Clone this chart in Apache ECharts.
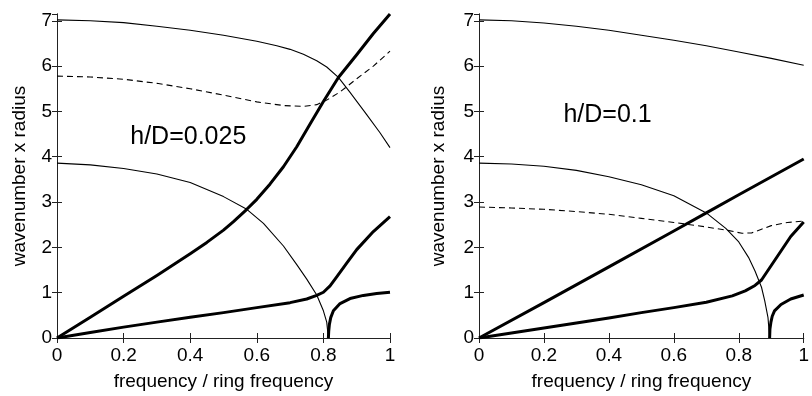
<!DOCTYPE html>
<html>
<head>
<meta charset="utf-8">
<script src="https://cdn.jsdelivr.net/npm/echarts@6/dist/echarts.min.js"></script>
<style>
  html, body { margin: 0; padding: 0; background: #fff; }
  #main { width: 812px; height: 396px; }
</style>
</head>
<body>
<div id="main"></div>
<script>
// h/D = 0.025 (left panel)
const fA_L = [0, 0.1, 0.2, 0.3, 0.4, 0.5, 0.6, 0.66, 0.7, 0.74, 0.78, 0.81, 0.845, 0.88, 0.93, 0.97, 1.0];
const yA_L = [7.02, 7.0, 6.96, 6.88, 6.79, 6.68, 6.55, 6.45, 6.37, 6.26, 6.12, 5.98, 5.75, 5.42, 4.93, 4.53, 4.2];
const fB_L = [0, 0.1, 0.2, 0.3, 0.4, 0.5, 0.57, 0.62, 0.68, 0.72, 0.75, 0.78, 0.8, 0.81, 0.815];
const yB_L = [3.86, 3.82, 3.74, 3.62, 3.43, 3.12, 2.84, 2.53, 2.03, 1.62, 1.3, 0.95, 0.6, 0.35, 0];
const fC_L = [0, 0.1, 0.2, 0.3, 0.4, 0.5, 0.6, 0.68, 0.74, 0.78, 0.81, 0.85, 0.9, 0.95, 1.0];
const yC_L = [5.78, 5.76, 5.71, 5.62, 5.5, 5.36, 5.21, 5.13, 5.11, 5.15, 5.25, 5.43, 5.72, 6.0, 6.33];
const fD_L = [0, 0.1, 0.2, 0.3, 0.4, 0.45, 0.5, 0.53, 0.57, 0.6, 0.64, 0.68, 0.72, 0.76, 0.8, 0.845, 0.9, 0.95, 1.0];
const yD_L = [0, 0.46, 0.92, 1.38, 1.86, 2.11, 2.38, 2.57, 2.84, 3.06, 3.4, 3.78, 4.22, 4.72, 5.22, 5.75, 6.25, 6.72, 7.15];
const fE_L = [0, 0.1, 0.2, 0.3, 0.4, 0.5, 0.6, 0.7, 0.75, 0.78, 0.8, 0.82, 0.84, 0.87, 0.9, 0.95, 1.0];
const yE_L = [0, 0.12, 0.24, 0.35, 0.46, 0.56, 0.67, 0.78, 0.86, 0.94, 1.01, 1.15, 1.35, 1.65, 1.95, 2.35, 2.68];
const fF_L = [0.815, 0.816, 0.818, 0.822, 0.83, 0.85, 0.88, 0.92, 0.96, 1.0];
const yF_L = [0, 0.15, 0.3, 0.45, 0.6, 0.76, 0.87, 0.94, 0.98, 1.01];

// h/D = 0.1 (right panel)
const fA_R = [0, 0.1, 0.2, 0.3, 0.4, 0.5, 0.6, 0.7, 0.8, 0.9, 1.0];
const yA_R = [7.02, 7.0, 6.95, 6.88, 6.79, 6.68, 6.57, 6.45, 6.31, 6.17, 6.02];
const fB_R = [0, 0.1, 0.2, 0.3, 0.4, 0.5, 0.6, 0.7, 0.76, 0.8, 0.83, 0.85, 0.87, 0.88, 0.89, 0.895];
const yB_R = [3.86, 3.84, 3.79, 3.7, 3.56, 3.38, 3.14, 2.76, 2.42, 2.12, 1.78, 1.48, 1.12, 0.82, 0.45, 0];
const fC_R = [0, 0.1, 0.2, 0.3, 0.4, 0.5, 0.6, 0.7, 0.77, 0.81, 0.84, 0.87, 0.9, 0.95, 1.0];
const yC_R = [2.89, 2.87, 2.84, 2.79, 2.73, 2.64, 2.55, 2.45, 2.37, 2.31, 2.32, 2.4, 2.48, 2.55, 2.58];
const fD_R = [0, 0.2, 0.4, 0.6, 0.7, 0.8, 1.0];
const yD_R = [0, 0.78, 1.57, 2.36, 2.76, 3.16, 3.95];
const fE_R = [0, 0.1, 0.2, 0.3, 0.4, 0.5, 0.6, 0.7, 0.78, 0.82, 0.85, 0.87, 0.9, 0.93, 0.96, 1.0];
const yE_R = [0, 0.11, 0.22, 0.33, 0.44, 0.56, 0.67, 0.79, 0.93, 1.04, 1.16, 1.28, 1.6, 1.92, 2.24, 2.56];
const fF_R = [0.895, 0.896, 0.899, 0.903, 0.91, 0.93, 0.96, 1.0];
const yF_R = [0, 0.2, 0.35, 0.48, 0.6, 0.74, 0.86, 0.95];

const panelLabels = ["h/D=0.025", "h/D=0.1"];
const labelPos = [[0.22, 4.46], [0.26, 4.96]];

const xName = "frequency / ring frequency";
const yName = "wavenumber x radius";
const FONT = '"Liberation Sans", Arial, sans-serif';
const INK = "#000";
const AXIS = "#222";

const pairs = (xs, ys) => xs.map((x, i) => [x, ys[i]]);

function xAxes(grid) {
  const common = {
    type: "value", gridIndex: grid, min: 0, max: 1, interval: 0.2,
    axisLine: { show: true, lineStyle: { color: AXIS, width: 1 } },
    axisTick: { show: true, inside: true, length: 5, lineStyle: { color: AXIS } },
    splitLine: { show: false }
  };
  return [
    Object.assign({}, common, {
      position: "bottom",
      name: xName, nameLocation: "middle", nameGap: 34,
      nameTextStyle: { fontFamily: FONT, fontSize: 19, color: INK },
      axisLabel: { show: true, margin: 8, fontFamily: FONT, fontSize: 19, color: INK }
    }),
    Object.assign({}, common, { position: "top", axisLabel: { show: false } })
  ];
}

function yAxes(grid, gap) {
  const common = {
    type: "value", gridIndex: grid, min: 0, max: 7.15, interval: 1,
    axisLine: { show: true, lineStyle: { color: AXIS, width: 1 } },
    axisTick: { show: true, inside: true, length: 5, lineStyle: { color: AXIS } },
    splitLine: { show: false }
  };
  return [
    Object.assign({}, common, {
      position: "left",
      name: yName, nameLocation: "middle", nameGap: gap,
      nameTextStyle: { fontFamily: FONT, fontSize: 19, color: INK },
      axisLabel: { show: true, margin: 5, fontFamily: FONT, fontSize: 19, color: INK, showMaxLabel: false }
    }),
    Object.assign({}, common, { position: "right", axisLabel: { show: false } })
  ];
}

function curve(xs, ys, axis, width, dashed) {
  return {
    type: "line", xAxisIndex: axis, yAxisIndex: axis,
    data: pairs(xs, ys), showSymbol: false, symbol: "none",
    smooth: false,
    lineStyle: { color: INK, width: width, type: dashed ? [6, 4] : "solid", join: "round" },
    emphasis: { disabled: true }, silent: true
  };
}

const chart = echarts.init(document.getElementById("main"), null, { renderer: "canvas" });

const option = {
  backgroundColor: "#fff",
  animation: false,
  grid: [
    { left: 57, top: 14, width: 333, height: 329 },
    { left: 479, top: 14, width: 335, height: 329 }
  ],
  // axis indices: 0 = left bottom/left, 1 = left top/right, 2 = right bottom/left, 3 = right top/right
  xAxis: [...xAxes(0), ...xAxes(1)],
  yAxis: [...yAxes(0, 28), ...yAxes(1, 31)],
  series: [
    curve(fA_L, yA_L, 0, 1.1, false),
    curve(fB_L, yB_L, 0, 1.1, false),
    curve(fC_L, yC_L, 0, 1.1, true),
    curve(fD_L, yD_L, 0, 3, false),
    curve(fE_L, yE_L, 0, 3, false),
    curve(fF_L, yF_L, 0, 3, false),
    curve(fA_R, yA_R, 2, 1.1, false),
    curve(fB_R, yB_R, 2, 1.1, false),
    curve(fC_R, yC_R, 2, 1.1, true),
    curve(fD_R, yD_R, 2, 3, false),
    curve(fE_R, yE_R, 2, 3, false),
    curve(fF_R, yF_R, 2, 3, false)
  ]
};

chart.setOption(option);

// panel labels placed in data coordinates
const p0 = chart.convertToPixel({ xAxisIndex: 0, yAxisIndex: 0 }, labelPos[0]);
const p1 = chart.convertToPixel({ xAxisIndex: 2, yAxisIndex: 2 }, labelPos[1]);
chart.setOption({
  graphic: [p0, p1].map((p, i) => ({
    type: "text", left: p[0], top: p[1] - 11, silent: true,
    style: { text: panelLabels[i], font: "25px " + FONT, fill: INK }
  }))
});
</script>
</body>
</html>
